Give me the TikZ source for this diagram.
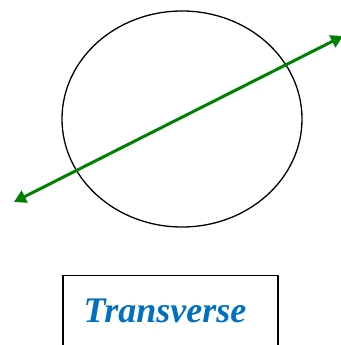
\documentclass[tikz,border=0pt]{standalone}
\usepackage{fontspec}
\setmainfont{Liberation Serif}
\usetikzlibrary{arrows.meta}
\definecolor{lineGreen}{RGB}{0,128,0}
\definecolor{textBlue}{RGB}{0,112,192}
\tikzset{
  curve/.style={draw=black, line width=1.3pt},
  transline/.style={draw=lineGreen, line width=3pt, {Triangle[length=12pt,width=13pt]}-{Triangle[length=12pt,width=13pt]}},
  labelbox/.style={draw=black, line width=1.5pt, minimum width=215pt, minimum height=80pt, anchor=north west, inner sep=0pt},
}
\begin{document}
\begin{tikzpicture}[x=1pt,y=1pt]
\useasboundingbox (0,0) rectangle (340,345);
\draw[curve] (182,226) ellipse [x radius=120, y radius=108];
\coordinate (lend) at (14,143);
\coordinate (rend) at (343,309);
\draw[transline] (lend) -- (rend);
\node[labelbox] (box) at (62,70) {};
\node[font=\bfseries\itshape\fontsize{36}{40}\selectfont, text=textBlue, anchor=base] (lbl) at (165,22) {Transverse};
\end{tikzpicture}
\end{document}
